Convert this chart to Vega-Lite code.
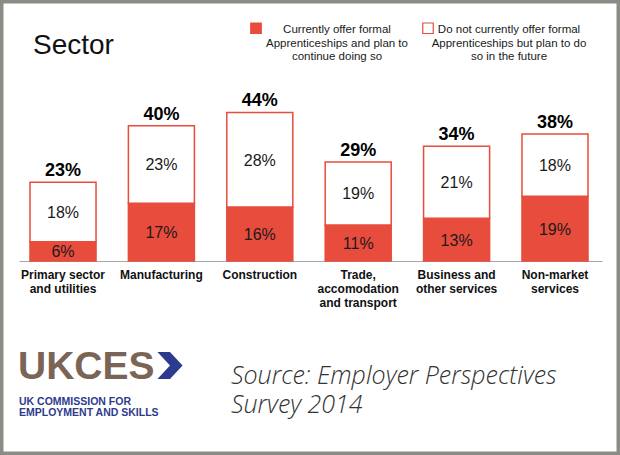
{
  "$schema": "https://vega.github.io/schema/vega-lite/v6.json",
  "width": 620,
  "height": 455,
  "autosize": {"type": "none"},
  "padding": 0,
  "background": "white",
  "config": {
    "view": {"stroke": "#8c8c86", "strokeWidth": 7},
    "font": "Liberation Sans"
  },
  "title": {
    "text": "Sector",
    "anchor": "start",
    "frame": "group",
    "offset": -82,
    "baseline": "alphabetic",
    "dx": 33,
    "fontSize": 28,
    "fontWeight": "normal",
    "font": "Liberation Sans",
    "color": "#111111"
  },
  "data": {
    "values": [
      {"sector": "Primary sector and utilities", "segment": "Currently offer formal Apprenticeships and plan to continue doing so", "value": 0.057},
      {"sector": "Primary sector and utilities", "segment": "Do not currently offer formal Apprenticeships but plan to do so in the future", "value": 0.176},
      {"sector": "Manufacturing", "segment": "Currently offer formal Apprenticeships and plan to continue doing so", "value": 0.171},
      {"sector": "Manufacturing", "segment": "Do not currently offer formal Apprenticeships but plan to do so in the future", "value": 0.23},
      {"sector": "Construction", "segment": "Currently offer formal Apprenticeships and plan to continue doing so", "value": 0.16},
      {"sector": "Construction", "segment": "Do not currently offer formal Apprenticeships but plan to do so in the future", "value": 0.28},
      {"sector": "Trade, accomodation and transport", "segment": "Currently offer formal Apprenticeships and plan to continue doing so", "value": 0.107},
      {"sector": "Trade, accomodation and transport", "segment": "Do not currently offer formal Apprenticeships but plan to do so in the future", "value": 0.186},
      {"sector": "Business and other services", "segment": "Currently offer formal Apprenticeships and plan to continue doing so", "value": 0.127},
      {"sector": "Business and other services", "segment": "Do not currently offer formal Apprenticeships but plan to do so in the future", "value": 0.213},
      {"sector": "Non-market services", "segment": "Currently offer formal Apprenticeships and plan to continue doing so", "value": 0.192},
      {"sector": "Non-market services", "segment": "Do not currently offer formal Apprenticeships but plan to do so in the future", "value": 0.184}
    ]
  },
  "layer": [
    {
      "mark": {"type": "bar", "stroke": "#e84c3d", "strokeWidth": 1.5},
      "encoding": {
        "x": {
          "field": "sector",
          "type": "nominal",
          "sort": null,
          "scale": {"range": [19, 602], "paddingInner": 0.329, "paddingOuter": 0.127, "align": 0.44},
          "axis": {
            "orient": "bottom",
            "offset": -194,
            "title": null,
            "domainColor": "#a6a6a6",
            "domainWidth": 1,
            "ticks": false,
            "tickSize": 0,
            "labelPadding": 8,
            "labelFont": "Liberation Sans",
            "labelFontWeight": "bold",
            "labelFontSize": 12,
            "labelColor": "#111111",
            "labelLineHeight": 14,
            "labelAngle": 0,
            "labelLimit": 300,
            "labelExpr": "datum.value == 'Primary sector and utilities' ? ['Primary sector','and utilities'] : datum.value == 'Trade, accomodation and transport' ? ['Trade,','accomodation','and transport'] : datum.value == 'Business and other services' ? ['Business and','other services'] : datum.value == 'Non-market services' ? ['Non-market','services'] : datum.value"
          }
        },
        "y": {
          "field": "value",
          "type": "quantitative",
          "stack": "zero",
          "scale": {"domain": [-0.5748, 0.7733], "nice": false, "zero": false},
          "axis": null
        },
        "color": {
          "field": "segment",
          "type": "nominal",
          "scale": {
            "domain": ["Currently offer formal Apprenticeships and plan to continue doing so", "Do not currently offer formal Apprenticeships but plan to do so in the future"],
            "range": ["#e84c3d", "#ffffff"]
          },
          "legend": {
            "orient": "none",
            "legendX": 250,
            "legendY": 27,
            "direction": "horizontal",
            "title": null,
            "symbolType": "M-1,-1.95L1,-1.95L1,0.05L-1,0.05Z",
            "symbolSize": 110,
            "symbolStrokeColor": "#e84c3d",
            "symbolStrokeWidth": 1.2,
            "symbolOpacity": 1,
            "labelFont": "Liberation Sans",
            "labelFontSize": 11.5,
            "labelColor": "#1a1a1a",
            "labelLineHeight": 13.5,
            "labelAlign": "center",
            "labelBaseline": "alphabetic",
            "labelOffset": 75,
            "labelLimit": 400,
            "columnPadding": 12,
            "labelExpr": "datum.label == 'Currently offer formal Apprenticeships and plan to continue doing so' ? ['Currently offer formal','Apprenticeships and plan to','continue doing so'] : ['Do not currently offer formal','Apprenticeships but plan to do','so in the future']"
          }
        },
        "order": {"field": "segment", "sort": "ascending"}
      }
    },
    {
      "mark": {"type": "text", "fontSize": 16, "font": "Liberation Sans", "color": "#1a1a1a", "baseline": "middle", "dy": 1},
      "encoding": {
        "x": {"field": "sector", "type": "nominal", "sort": null},
        "y": {"field": "value", "type": "quantitative", "stack": "zero", "bandPosition": 0.5},
        "detail": {"field": "segment"},
        "order": {"field": "segment", "sort": "ascending"},
        "text": {"field": "value", "type": "quantitative", "format": ".0%"}
      }
    },
    {
      "mark": {"type": "text", "fontSize": 18, "fontWeight": "bold", "font": "Liberation Sans", "color": "#000000", "baseline": "alphabetic", "dy": -6},
      "encoding": {
        "x": {"field": "sector", "type": "nominal", "sort": null},
        "y": {"aggregate": "sum", "field": "value", "type": "quantitative"},
        "text": {"aggregate": "sum", "field": "value", "type": "quantitative", "format": ".0%"}
      }
    },
    {
      "data": {"values": [{}]},
      "mark": {"type": "text", "text": "UKCES", "font": "Liberation Sans", "fontWeight": "bold", "fontSize": 39, "letterSpacing": 2, "color": "#7a6456", "align": "left", "baseline": "alphabetic"},
      "encoding": {"x": {"value": 18}, "y": {"datum": -0.3496}}
    },
    {
      "data": {"values": [{}]},
      "mark": {"type": "point", "shape": "M-0.93,-1L0,-1L0.93,0L0,1L-0.93,1L0,0Z", "filled": true, "color": "#2d3b8e", "size": 729, "opacity": 1},
      "encoding": {"x": {"value": 170}, "y": {"datum": -0.3096}}
    },
    {
      "data": {"values": [{}]},
      "mark": {"type": "text", "text": ["UK COMMISSION FOR", "EMPLOYMENT AND SKILLS"], "font": "Liberation Sans", "fontWeight": "bold", "fontSize": 10.5, "lineHeight": 10.5, "color": "#2d3b8e", "align": "left", "baseline": "alphabetic"},
      "encoding": {"x": {"value": 19}, "y": {"datum": -0.4267}}
    },
    {
      "data": {"values": [{}]},
      "mark": {"type": "text", "text": ["Source: Employer Perspectives", "Survey 2014"], "font": "Open Sans", "fontStyle": "italic", "fontWeight": 300, "fontSize": 25, "lineHeight": 29, "color": "#333333", "align": "left", "baseline": "alphabetic"},
      "encoding": {"x": {"value": 231}, "y": {"datum": -0.3644}}
    }
  ]
}
